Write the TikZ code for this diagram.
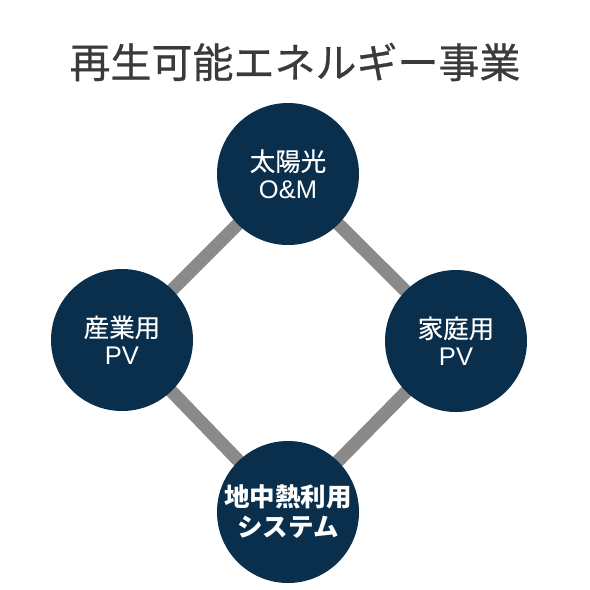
\documentclass[tikz,border=0pt]{standalone}
\usepackage{fontspec}
\setmainfont{Noto Sans CJK JP}
\newfontfamily\latinfont{Liberation Sans}
\newfontfamily\titlefont{Noto Sans CJK JP}[FakeBold=0.6]
\newfontfamily\hubfont{Noto Sans CJK JP}[FakeBold=0.4]
\begin{document}
\begin{tikzpicture}[x=1pt,y=-1pt,
  hub/.style={circle,fill=navy,minimum size=142pt,inner sep=0pt,text=white,align=center,font=\hubfont\fontsize{25.5}{27.5}\selectfont},
  link/.style={draw=linkgray,line width=13pt}]
\definecolor{navy}{HTML}{0A2F4C}
\definecolor{linkgray}{HTML}{8A8A8A}
\definecolor{titlegray}{HTML}{3A3A3A}
\useasboundingbox (0,0) rectangle (590,590);
\node[text=titlegray,font=\titlefont\fontsize{41}{44}\selectfont] (title) at (295,62) {再生可能エネルギー事業};
\coordinate (ct) at (288,174);
\coordinate (cl) at (122,340);
\coordinate (cr) at (456,341);
\coordinate (cb) at (288,512);
\draw[link] (ct) -- (cl);
\draw[link] (ct) -- (cr);
\draw[link] (cl) -- (cb);
\draw[link] (cr) -- (cb);
\node[hub] (top) at (ct) {太陽光\\{\latinfont O\&M}};
\node[hub] (left) at (cl) {産業用\\{\latinfont PV}};
\node[hub] (right) at (cr) {家庭用\\{\latinfont PV}};
\node[hub,font=\bfseries\fontsize{25.5}{30}\selectfont] (bottom) at (cb) {地中熱利用\\システム};
\end{tikzpicture}
\end{document}
